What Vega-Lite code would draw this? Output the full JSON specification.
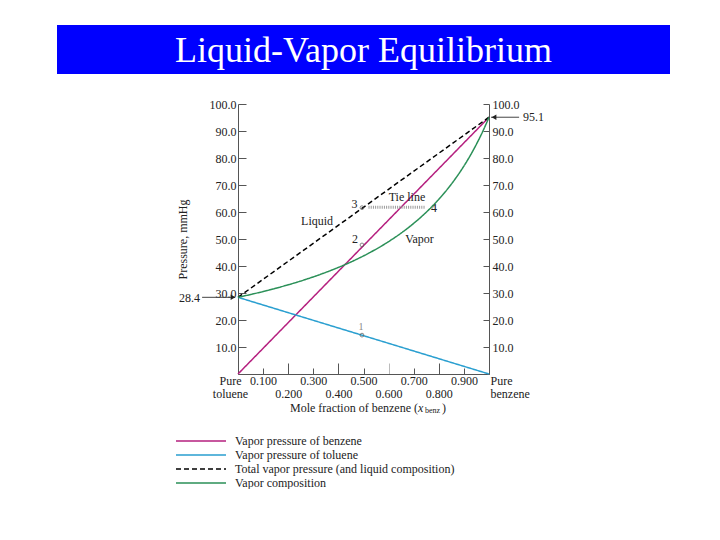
{
  "$schema": "https://vega.github.io/schema/vega-lite/v6.json",
  "background": "white",
  "padding": {"left": 57, "top": 25, "right": 0, "bottom": 0},
  "autosize": {"type": "pad"},
  "config": {
    "font": "Liberation Serif",
    "view": {"stroke": null},
    "axis": {"labelFont": "Liberation Serif", "titleFont": "Liberation Serif", "labelFontSize": 12, "titleFontSize": 12, "titleFontWeight": "normal", "labelColor": "#222", "titleColor": "#222", "domainColor": "#555", "tickColor": "#555", "grid": false},
    "text": {"font": "Liberation Serif"}
  },
  "spacing": 30,
  "center": true,
  "bounds": "flush",
  "resolve": {"legend": {"color": "independent", "strokeDash": "independent"}},
  "vconcat": [
    {
      "width": 613,
      "height": 49,
      "view": {"fill": "#0000ff", "stroke": null},
      "data": {"values": [{"title": "Liquid-Vapor Equilibrium"}]},
      "mark": {"type": "text", "color": "white", "fontSize": 36, "font": "Liberation Serif", "baseline": "middle", "align": "center", "dy": 1},
      "encoding": {"text": {"field": "title"}}
    },
    {
      "width": 251,
      "height": 270,
      "resolve": {"axis": {"y": "independent"}, "scale": {"shape": "independent"}},
      "encoding": {
        "x": {"field": "x", "type": "quantitative", "scale": {"domain": [0, 1], "nice": false, "zero": false},
          "axis": {
            "title": null,
            "values": [0, 0.1, 0.2, 0.3, 0.4, 0.5, 0.6, 0.7, 0.8, 0.9, 1],
            "labelExpr": "datum.value == 0 ? ['Pure', 'toluene'] : datum.value == 1 ? ['Pure', 'benzene'] : (round(datum.value * 10) % 2 == 1 ? format(datum.value, '.3f') : ['', format(datum.value, '.3f')])",
            "tickSize": {"condition": {"test": "round(datum.value * 10) % 2 == 0", "value": -11}, "value": -6},
            "labelPadding": {"condition": {"test": "round(datum.value * 10) % 2 == 0", "value": 12}, "value": 7},
            "tickColor": {"condition": {"test": "round(datum.value * 10) == 6", "value": "#bbbbbb"}, "value": "#555555"},
            "labelAlign": {"condition": {"test": "datum.value == 1", "value": "left"}, "value": "center"},
            "labelOffset": {"condition": [{"test": "datum.value == 0", "value": -8}, {"test": "datum.value == 1", "value": 1}], "value": 0},
            "labelOverlap": false,
            "labelBound": false,
            "labelFlush": false,
            "labelLineHeight": 13
          }
        },
        "y": {"field": "p", "type": "quantitative", "scale": {"domain": [0, 100], "nice": false}, "axis": null}
      },
      "layer": [
        {
          "data": {"values": [
            {"series": "Vapor pressure of benzene", "x": 0, "p": 0},
            {"series": "Vapor pressure of benzene", "x": 1, "p": 95.1},
            {"series": "Vapor pressure of toluene", "x": 0, "p": 28.4},
            {"series": "Vapor pressure of toluene", "x": 1, "p": 0},
            {"series": "Total vapor pressure (and liquid composition)", "x": 0, "p": 28.4},
            {"series": "Total vapor pressure (and liquid composition)", "x": 1, "p": 95.1},
            {"series": "Vapor composition", "x": 0, "p": 28.4},
            {"series": "Vapor composition", "x": 0.0791, "p": 30.07},
            {"series": "Vapor composition", "x": 0.1498, "p": 31.74},
            {"series": "Vapor composition", "x": 0.2712, "p": 35.07},
            {"series": "Vapor composition", "x": 0.3714, "p": 38.41},
            {"series": "Vapor composition", "x": 0.4557, "p": 41.74},
            {"series": "Vapor composition", "x": 0.5275, "p": 45.08},
            {"series": "Vapor composition", "x": 0.5893, "p": 48.41},
            {"series": "Vapor composition", "x": 0.6433, "p": 51.75},
            {"series": "Vapor composition", "x": 0.6906, "p": 55.08},
            {"series": "Vapor composition", "x": 0.7326, "p": 58.42},
            {"series": "Vapor composition", "x": 0.77, "p": 61.75},
            {"series": "Vapor composition", "x": 0.8036, "p": 65.09},
            {"series": "Vapor composition", "x": 0.834, "p": 68.42},
            {"series": "Vapor composition", "x": 0.8615, "p": 71.76},
            {"series": "Vapor composition", "x": 0.8865, "p": 75.09},
            {"series": "Vapor composition", "x": 0.9095, "p": 78.43},
            {"series": "Vapor composition", "x": 0.9305, "p": 81.76},
            {"series": "Vapor composition", "x": 0.9499, "p": 85.1},
            {"series": "Vapor composition", "x": 0.9679, "p": 88.43},
            {"series": "Vapor composition", "x": 0.9845, "p": 91.77},
            {"series": "Vapor composition", "x": 1, "p": 95.1}
          ]},
          "mark": {"type": "line", "strokeWidth": 1.5, "interpolate": "monotone"},
          "encoding": {
            "y": {"field": "p", "type": "quantitative", "scale": {"domain": [0, 100], "nice": false},
              "axis": {
                "orient": "left",
                "values": [10, 20, 30, 40, 50, 60, 70, 80, 90, 100],
                "format": ".1f",
                "tickSize": -8,
                "labelPadding": 10,
                "title": "Pressure, mmHg",
                "titlePadding": 20
              }
            },
            "color": {"field": "series", "type": "nominal",
              "scale": {"domain": ["Vapor pressure of benzene", "Vapor pressure of toluene", "Total vapor pressure (and liquid composition)", "Vapor composition"], "range": ["#b5207f", "#2a9fd0", "#000000", "#2b9058"]},
              "legend": {"title": null, "orient": "none", "legendX": -63, "legendY": 331, "symbolType": "M-1,0H9", "symbolSize": 100, "symbolStrokeWidth": 1.5, "labelOffset": 48, "labelFont": "Liberation Serif", "labelFontSize": 12, "labelColor": "#222", "rowPadding": 2, "labelLimit": 400}
            },
            "strokeDash": {"field": "series", "type": "nominal",
              "scale": {"domain": ["Vapor pressure of benzene", "Vapor pressure of toluene", "Total vapor pressure (and liquid composition)", "Vapor composition"], "range": [[1, 0], [1, 0], [5, 3], [1, 0]]},
              "legend": {"title": null, "orient": "none", "legendX": -63, "legendY": 331, "symbolType": "M-1,0H9", "symbolSize": 100, "symbolStrokeWidth": 1.5, "labelOffset": 48, "labelFont": "Liberation Serif", "labelFontSize": 12, "labelColor": "#222", "rowPadding": 2, "labelLimit": 400}
            }
          }
        },
        {
          "data": {"values": [{"x": 0.52, "x2": 0.745, "p": 61.8}]},
          "mark": {"type": "rule", "color": "#999999", "strokeWidth": 3, "strokeDash": [1, 1.2]},
          "encoding": {"x2": {"field": "x2"}}
        },
        {
          "data": {"values": [{"x": 0.494, "p": 61.6}, {"x": 0.494, "p": 47.8}, {"x": 0.494, "p": 14.4}]},
          "mark": {"type": "point", "shape": "circle", "size": 14, "stroke": "#555555", "strokeWidth": 1, "filled": false},
          "encoding": {
            "y": {"field": "p", "type": "quantitative", "scale": {"domain": [0, 100], "nice": false},
              "axis": {
                "orient": "right",
                "values": [10, 20, 30, 40, 50, 60, 70, 80, 90, 100],
                "format": ".1f",
                "tickSize": -6,
                "labelPadding": 9,
                "title": null
              }
            }
          }
        },
        {
          "data": {"values": [{"x": -0.143, "x2": -0.012, "p": 28.4}, {"x": 1.008, "x2": 1.12, "p": 95.1}]},
          "mark": {"type": "rule", "color": "#444444", "strokeWidth": 1},
          "encoding": {"x2": {"field": "x2"}}
        },
        {
          "data": {"values": [{"x": -0.02, "p": 28.4, "dir": "right"}, {"x": 1.02, "p": 95.1, "dir": "left"}]},
          "mark": {"type": "point", "filled": true, "size": 30, "color": "#222222", "opacity": 1},
          "encoding": {
            "shape": {"field": "dir", "type": "nominal", "scale": {"domain": ["right", "left"], "range": ["triangle-right", "triangle-left"]}, "legend": null}
          }
        },
        {
          "data": {"values": [
            {"x": 0.673, "p": 65.6, "label": "Tie line"},
            {"x": 0.315, "p": 56.7, "label": "Liquid"},
            {"x": 0.723, "p": 50, "label": "Vapor"},
            {"x": 0.464, "p": 63.1, "label": "3"},
            {"x": 0.466, "p": 50, "label": "2"},
            {"x": 0.781, "p": 61.3, "label": "4"}
          ]},
          "mark": {"type": "text", "fontSize": 12, "color": "#222222", "align": "center", "baseline": "middle"},
          "encoding": {"text": {"field": "label"}}
        },
        {
          "data": {"values": [{"x": 0.49, "p": 17.4, "label": "1"}]},
          "mark": {"type": "text", "fontSize": 10, "color": "#888888", "align": "center", "baseline": "middle"},
          "encoding": {"text": {"field": "label"}}
        },
        {
          "data": {"values": [{"x": -0.151, "p": 28.0, "label": "28.4"}, {"x": 0.717, "p": -12.6, "label": "Mole fraction of benzene ("}]},
          "mark": {"type": "text", "fontSize": 12, "color": "#222222", "align": "right", "baseline": "middle"},
          "encoding": {"text": {"field": "label"}}
        },
        {
          "data": {"values": [{"x": 1.135, "p": 95.1, "label": "95.1"}, {"x": 0.813, "p": -12.6, "label": ")"}]},
          "mark": {"type": "text", "fontSize": 12, "color": "#222222", "align": "left", "baseline": "middle"},
          "encoding": {"text": {"field": "label"}}
        },
        {
          "data": {"values": [{"x": 0.717, "p": -12.6, "label": "x"}]},
          "mark": {"type": "text", "fontSize": 12, "fontStyle": "italic", "color": "#222222", "align": "left", "baseline": "middle"},
          "encoding": {"text": {"field": "label"}}
        },
        {
          "data": {"values": [{"x": 0.745, "p": -13.8, "label": "benz"}]},
          "mark": {"type": "text", "fontSize": 8, "color": "#222222", "align": "left", "baseline": "middle"},
          "encoding": {"text": {"field": "label"}}
        }
      ]
    }
  ]
}
